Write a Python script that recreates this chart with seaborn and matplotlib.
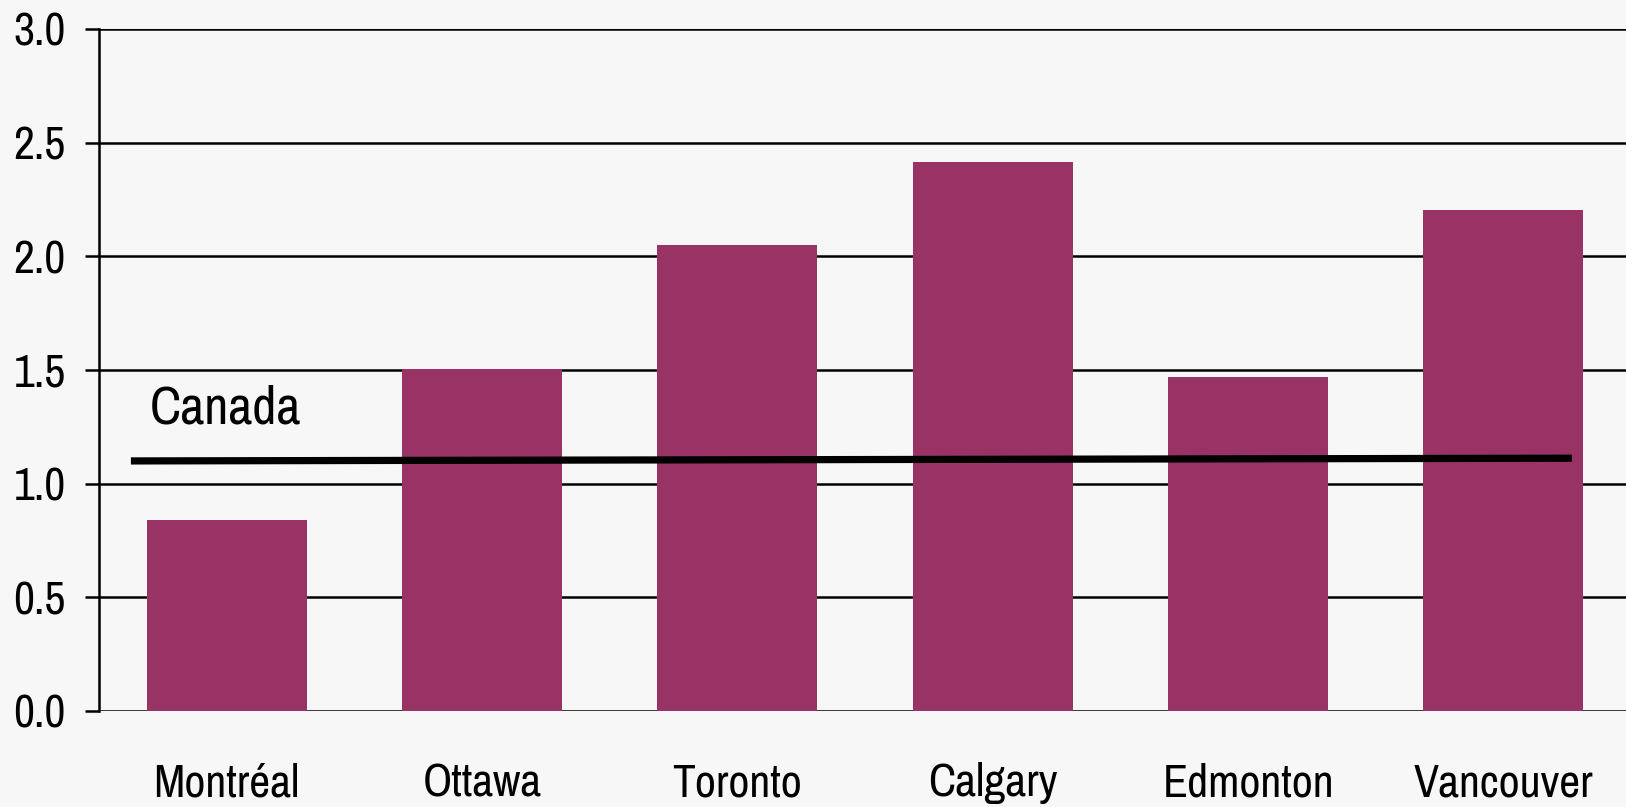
import matplotlib
matplotlib.use("Agg")
import matplotlib.pyplot as plt
import seaborn as sns
import pandas as pd
from matplotlib import font_manager

cities = ["Montréal", "Ottawa", "Toronto", "Calgary", "Edmonton", "Vancouver"]
values = [0.84, 1.505, 2.05, 2.415, 1.47, 2.205]
canada_level = [1.10, 1.112]
canada_label = "Canada"
yticks = [0.0, 0.5, 1.0, 1.5, 2.0, 2.5, 3.0]

bg = "#f7f7f7"
bar_color = "#993366"

sns.set_theme(style="white")
names = sorted({f.name for f in font_manager.fontManager.ttflist})
cond = [n for n in names if "Narrow" in n or "Condensed" in n]
plt.rcParams["font.family"] = (cond[:1] if cond else []) + ["DejaVu Sans"]
plt.rcParams["font.stretch"] = "condensed"
plt.rcParams["font.weight"] = "light"

fig = plt.figure(figsize=(16.26, 8.07), dpi=100, facecolor=bg)
ax = fig.add_axes([99 / 1626, 1 - 711 / 807, 1 - 99 / 1626, (711 - 29) / 807])
ax.set_facecolor(bg)

df = pd.DataFrame({"city": cities, "value": values})
sns.barplot(data=df, x="city", y="value", color=bar_color, saturation=1,
            width=0.627, ax=ax, zorder=2, linewidth=0, edgecolor="none")

ax.plot([-0.375, 5.268], canada_level, color="black", lw=5.2,
        solid_capstyle="butt", zorder=3)
ax.text(-0.30, 1.263, canada_label, fontsize=38, va="baseline", ha="left",
        color="black", zorder=4)

ax.set_xlim(-0.5, 5.48)
ax.set_ylim(0, 3.0)
ax.set_yticks(yticks)
ax.set_yticklabels([f"{t:.1f}" for t in yticks])
ax.yaxis.grid(True, color="black", lw=1.8, zorder=0)
ax.set_axisbelow(True)
ax.set_xlabel("")
ax.set_ylabel("")

for s in ["top", "right", "bottom"]:
    ax.spines[s].set_visible(False)
ax.spines["left"].set_color("black")
ax.spines["left"].set_linewidth(1.8)

ax.tick_params(axis="y", which="major", length=10, width=1.8, color="black",
               direction="out", left=True, labelsize=33, pad=14, labelcolor="black")
ax.tick_params(axis="x", which="major", length=0, labelsize=33, pad=37,
               labelcolor="black")

fig.savefig("out.png", dpi=100, facecolor=bg)
